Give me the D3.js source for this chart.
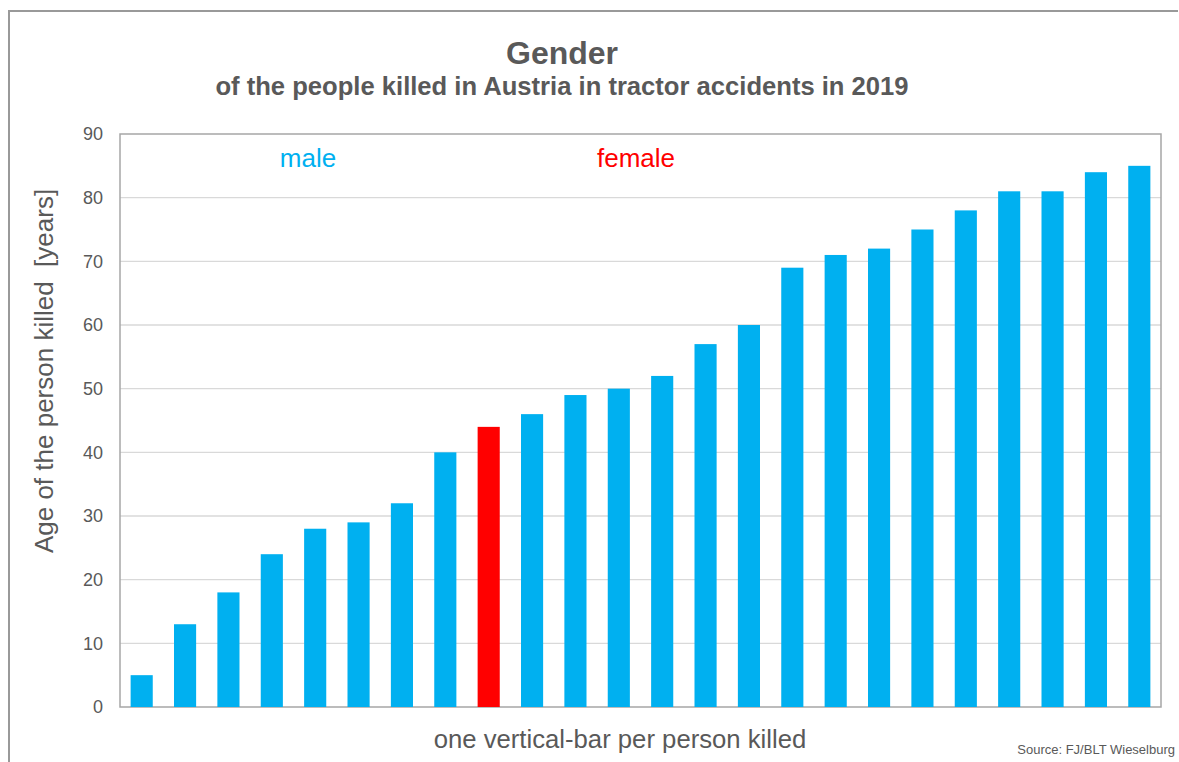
<!DOCTYPE html>
<html>
<head>
<meta charset="utf-8">
<script src="https://cdn.jsdelivr.net/npm/d3@7"></script>
<style>
  body { margin: 0; background: #fff; }
  text { font-family: Arial, "Liberation Sans", sans-serif; }
</style>
</head>
<body>
<div id="chart"></div>
<script>
// ages of the people killed, one bar per person, sorted
const ages = [5, 13, 18, 24, 28, 29, 32, 40, 44, 46, 49, 50, 52, 57, 60, 69, 71, 72, 75, 78, 81, 81, 84, 85];
const genders = ['m', 'm', 'm', 'm', 'm', 'm', 'm', 'm', 'f', 'm', 'm', 'm', 'm', 'm', 'm', 'm', 'm', 'm', 'm', 'm', 'm', 'm', 'm', 'm'];
const yTicks = [0, 10, 20, 30, 40, 50, 60, 70, 80, 90];

const W = 1179, H = 762;
const margin = { top: 134, left: 120, right: 18, bottom: 55 };
const blue = '#00b0f0', red = '#ff0000', grey = '#595959';

const svg = d3.select('#chart').append('svg')
  .attr('width', W).attr('height', H);

// outer frame
svg.append('path')
  .attr('d', `M9,${H} V11 H1178`)
  .attr('fill', 'none').attr('stroke', '#999').attr('stroke-width', 2);

const x = d3.scaleBand()
  .domain(ages.map((d, i) => i))
  .range([margin.left, W - margin.right])
  .paddingInner(0.49).paddingOuter(0.245);

const y = d3.scaleLinear()
  .domain([0, 90])
  .range([H - margin.bottom, margin.top]);

// gridlines
svg.append('g').selectAll('line')
  .data(yTicks.filter(d => d > 0 && d < 90))
  .enter().append('line')
  .attr('x1', margin.left).attr('x2', W - margin.right)
  .attr('y1', d => y(d)).attr('y2', d => y(d))
  .attr('stroke', '#d9d9d9').attr('stroke-width', 1.3);

// plot frame
svg.append('rect')
  .attr('x', margin.left).attr('y', y(90))
  .attr('width', W - margin.right - margin.left)
  .attr('height', y(0) - y(90))
  .attr('fill', 'none').attr('stroke', '#a6a6a6').attr('stroke-width', 1.5);

// bars
svg.append('g').selectAll('rect')
  .data(ages)
  .enter().append('rect')
  .attr('x', (d, i) => x(i))
  .attr('width', x.bandwidth())
  .attr('y', d => y(d))
  .attr('height', d => y(0) - y(d))
  .attr('fill', (d, i) => genders[i] === 'f' ? red : blue);

// y axis
const yAxis = d3.axisLeft(y).tickValues(yTicks).tickSize(0).tickPadding(17);
const gy = svg.append('g')
  .attr('transform', `translate(${margin.left},0)`)
  .call(yAxis);
gy.select('.domain').remove();
gy.selectAll('text')
  .attr('fill', grey).style('font-size', '18px')
  .style('font-family', 'Arial, "Liberation Sans", sans-serif');

// titles
svg.append('text')
  .attr('x', 562).attr('y', 64)
  .attr('text-anchor', 'middle')
  .attr('fill', grey).style('font-size', '32px').style('font-weight', 'bold')
  .text('Gender');
svg.append('text')
  .attr('x', 562).attr('y', 95)
  .attr('text-anchor', 'middle')
  .attr('fill', grey).style('font-size', '25.6px').style('font-weight', 'bold')
  .text('of the people killed in Austria in tractor accidents in 2019');

// legend labels
svg.append('text')
  .attr('x', 308).attr('y', 167).attr('text-anchor', 'middle')
  .attr('fill', blue).style('font-size', '26px').text('male');
svg.append('text')
  .attr('x', 636).attr('y', 167).attr('text-anchor', 'middle')
  .attr('fill', red).style('font-size', '26px').text('female');

// axis titles
svg.append('text')
  .attr('transform', `translate(53,371) rotate(-90)`)
  .attr('text-anchor', 'middle')
  .attr('fill', grey).style('font-size', '26px')
  .style('white-space', 'pre')
  .text('Age of the person killed  [years]');
svg.append('text')
  .attr('x', 620).attr('y', 748).attr('text-anchor', 'middle')
  .attr('fill', grey).style('font-size', '25.7px')
  .text('one vertical-bar per person killed');

svg.append('text')
  .attr('x', 1175).attr('y', 754).attr('text-anchor', 'end')
  .attr('fill', grey).style('font-size', '13px')
  .text('Source: FJ/BLT Wieselburg');
</script>
</body>
</html>
